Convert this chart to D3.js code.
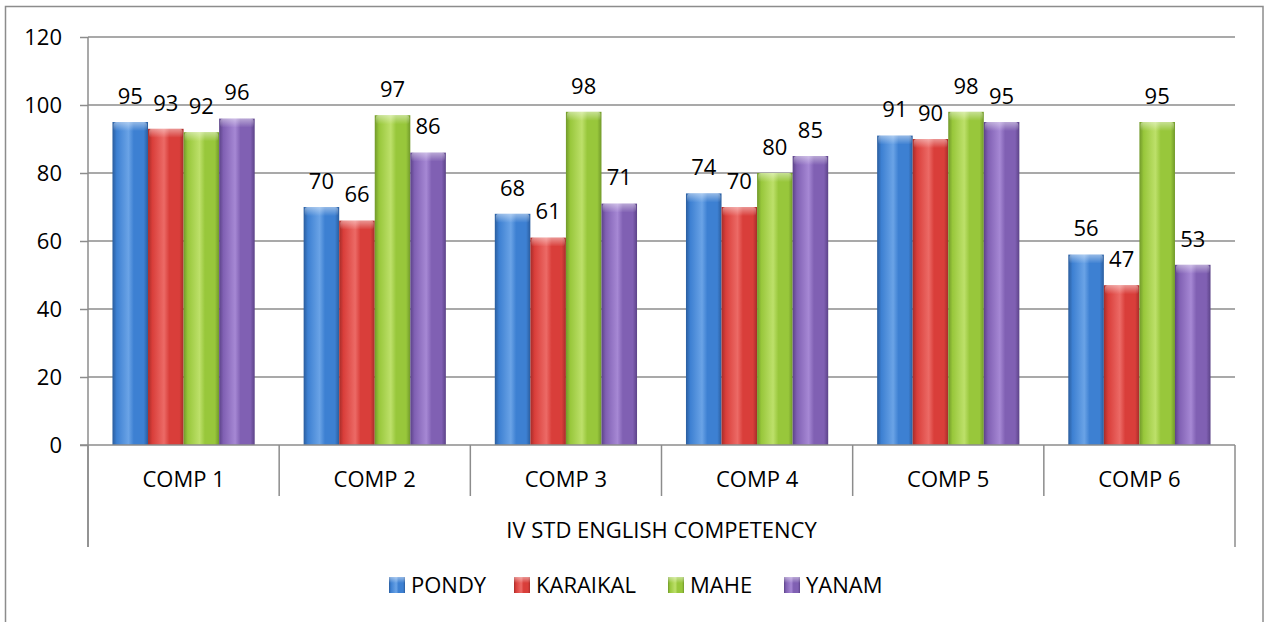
<!DOCTYPE html>
<html><head><meta charset="utf-8">
<script src="https://cdn.jsdelivr.net/npm/d3@7"></script>
<style>
html,body{margin:0;padding:0;background:#fff;}
svg{display:block;font-family:"Open Sans","Liberation Sans",sans-serif;}
</style></head>
<body><svg id="chart" width="1266" height="622"></svg>
<script>
const categories = ["COMP 1","COMP 2","COMP 3","COMP 4","COMP 5","COMP 6"];
const seriesNames = ["PONDY","KARAIKAL","MAHE","YANAM"];
const pondy    = [95,70,68,74,91,56];
const karaikal = [93,66,61,70,90,47];
const mahe     = [92,97,98,80,98,95];
const yanam    = [96,86,71,85,95,53];
const yTicks   = [0,20,40,60,80,100,120];
const groupLabel = "IV STD ENGLISH COMPETENCY";
const seriesValues = [pondy,karaikal,mahe,yanam];
const colors = [
  {main:"#3d80d2", light:"#6aa3e6", dark:"#2a5d9e"},
  {main:"#d93e3a", light:"#ec6a66", dark:"#a62c29"},
  {main:"#98c73b", light:"#bde06a", dark:"#71992a"},
  {main:"#8060b3", light:"#a688d4", dark:"#5c4388"}
];

(function(){
const svg = d3.select("#chart");
const pL = 88, pR = 1235, pT = 37, pB = 445;
const fs = 22;

svg.append("rect").attr("x",5.5).attr("y",6.5).attr("width",1257.5).attr("height",630)
  .attr("fill","none").attr("stroke","#8c8c8c").attr("stroke-width",1.5);

const defs = svg.append("defs");
colors.forEach((c,i)=>{
  const g = defs.append("linearGradient").attr("id","g"+i).attr("x1","0").attr("x2","1").attr("y1","0").attr("y2","0");
  [[0,c.dark],[0.12,c.main],[0.45,c.light],[0.6,c.main],[0.88,c.main],[1,c.dark]].forEach(s=>
    g.append("stop").attr("offset",s[0]).attr("stop-color",s[1]));
  const t = defs.append("linearGradient").attr("id","t"+i).attr("x1","0").attr("x2","0").attr("y1","0").attr("y2","1");
  t.append("stop").attr("offset",0).attr("stop-color","#fff").attr("stop-opacity",0.45);
  t.append("stop").attr("offset",1).attr("stop-color","#fff").attr("stop-opacity",0);
});

const y = d3.scaleLinear().domain([0,120]).range([pB,pT]);
const x0 = d3.scaleBand().domain(categories).range([pL,pR]).padding(0);
const bw = x0.bandwidth();
const x1 = d3.scaleBand().domain(seriesNames).range([bw*0.128, bw*0.872]).padding(0);

svg.append("g").selectAll("line").data(yTicks.filter(t=>t>0)).join("line")
  .attr("x1",pL).attr("x2",pR).attr("y1",d=>y(d)).attr("y2",d=>y(d))
  .attr("stroke","#8c8c8c").attr("stroke-width",1.5);

const yAxis = d3.axisLeft(y).tickValues(yTicks).tickSize(8).tickPadding(18);
const yg = svg.append("g").attr("transform",`translate(${pL},0)`).call(yAxis);
yg.select(".domain").remove();
yg.selectAll("line").attr("stroke","#8c8c8c").attr("stroke-width",1.5);
yg.selectAll("text").attr("font-size",fs).attr("fill","#000").attr("font-family","'Open Sans',sans-serif");
svg.append("line").attr("x1",pL).attr("x2",pL).attr("y1",pT).attr("y2",547)
  .attr("stroke","#8c8c8c").attr("stroke-width",1.5);

const groups = svg.append("g").selectAll("g").data(categories).join("g")
  .attr("transform",d=>`translate(${x0(d)},0)`);
groups.each(function(cat,ci){
  const g = d3.select(this);
  seriesNames.forEach((s,si)=>{
    const v = seriesValues[si][ci];
    const bx = x1(s), w = x1.bandwidth(), by = y(v), h = y(0)-y(v);
    g.append("rect").attr("x",bx).attr("y",by).attr("width",w).attr("height",h).attr("fill",`url(#g${si})`);
    g.append("rect").attr("x",bx+1).attr("y",by).attr("width",w-2).attr("height",Math.min(9,h)).attr("rx",3)
      .attr("fill",`url(#t${si})`);
    g.append("text").attr("x",bx+w/2).attr("y",by-26).attr("dy","0.35em").attr("text-anchor","middle")
      .attr("font-size",fs).attr("fill","#000").text(v);
  });
});

svg.append("line").attr("x1",pL-8).attr("x2",pR).attr("y1",pB).attr("y2",pB)
  .attr("stroke","#8c8c8c").attr("stroke-width",1.5);
const bounds = categories.map(c=>x0(c)).concat([pR]);
svg.append("g").selectAll("line").data(bounds).join("line")
  .attr("x1",d=>d).attr("x2",d=>d).attr("y1",pB).attr("y2",(d,i)=> (i===0||i===bounds.length-1)?547:496)
  .attr("stroke","#8c8c8c").attr("stroke-width",1.5);
svg.append("g").selectAll("text").data(categories).join("text")
  .attr("x",d=>x0(d)+bw/2).attr("y",479).attr("dy","0.35em").attr("text-anchor","middle")
  .attr("font-size",fs).attr("fill","#000").text(d=>d);
svg.append("text").attr("x",(pL+pR)/2).attr("y",530).attr("dy","0.35em").attr("text-anchor","middle")
  .attr("font-size",fs).attr("fill","#000").text(groupLabel);

const legendX = [389,514,668,784];
const lg = svg.append("g").selectAll("g").data(seriesNames).join("g")
  .attr("transform",(d,i)=>`translate(${legendX[i]},577)`);
lg.append("rect").attr("width",16).attr("height",16).attr("fill",(d,i)=>`url(#g${i})`);
lg.append("rect").attr("width",16).attr("height",6).attr("fill",(d,i)=>`url(#t${i})`);
lg.append("text").attr("x",22).attr("y",8).attr("dy","0.35em").attr("font-size",fs).attr("fill","#000").text(d=>d);
})();
</script></body></html>
